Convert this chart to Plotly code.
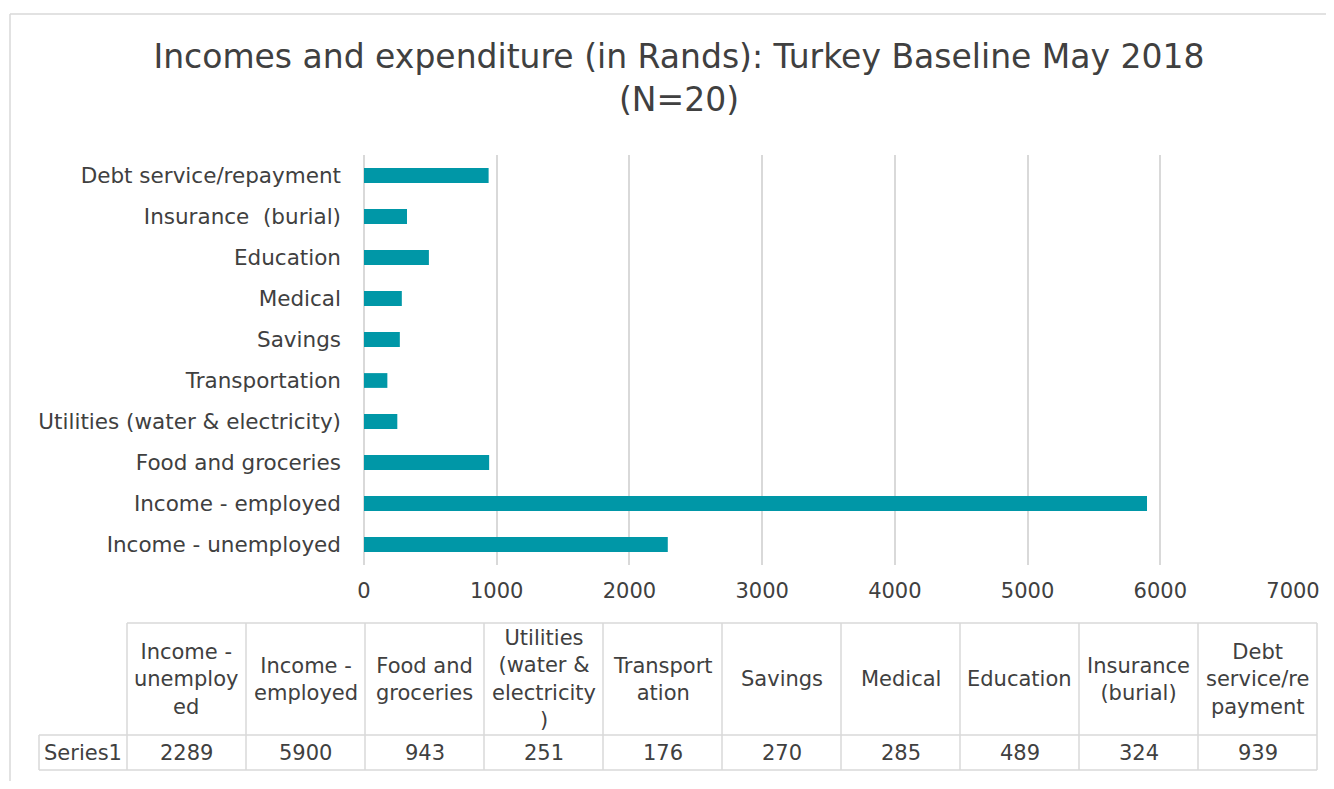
import plotly.graph_objects as go

# ---- data ----
categories = [
    "Income - unemployed", "Income - employed", "Food and groceries",
    "Utilities (water & electricity)", "Transportation", "Savings",
    "Medical", "Education", "Insurance  (burial)", "Debt service/repayment",
]
values = [2289, 5900, 943, 251, 176, 270, 285, 489, 324, 939]
table_headers = [
    "Income -<br>unemploy<br>ed", "Income -<br>employed", "Food and<br>groceries",
    "Utilities<br>(water &<br>electricity<br>)", "Transport<br>ation", "Savings",
    "Medical", "Education", "Insurance<br>(burial)", "Debt<br>service/re<br>payment",
]
series_name = "Series1"
x_ticks = [0, 1000, 2000, 3000, 4000, 5000, 6000, 7000]
title_text = "Incomes and expenditure (in Rands): Turkey Baseline May 2018<br>(N=20)"

# ---- layout constants ----
# figure sized to fit inside the page body (8px default margin) without scrollbars
OFF = 8
FW, FH = 1334 - 2 * OFF, 789 - 2 * OFF
FONT = "DejaVu Sans"
TXT = "#404040"
GRID = "#d9d9d9"
BAR = "#0097a7"


def X(px):
    return (px - OFF) / FW


def Y(py):
    return 1 - (py - OFF) / FH


fig = go.Figure()
fig.add_trace(go.Bar(
    y=categories, x=values, orientation="h",
    marker=dict(color=BAR, line=dict(width=0)),
    width=0.36, name=series_name, showlegend=False,
))

fig.update_layout(
    template="none",
    width=FW, height=FH,
    margin=dict(l=0, r=0, t=0, b=0, pad=0),
    paper_bgcolor="white", plot_bgcolor="white",
    font=dict(family=FONT, color=TXT, size=22),
    title=dict(text=title_text, x=X(679), xanchor="center", y=Y(68), yanchor="middle",
               font=dict(size=33, color=TXT, family=FONT), automargin=False),
    xaxis=dict(domain=[X(364), X(1293)], range=[0, 7000], tickvals=x_ticks,
               showgrid=True, gridcolor=GRID, gridwidth=1.5,
               zeroline=True, zerolinecolor=GRID, zerolinewidth=1.5,
               showline=False, ticks="", tickfont=dict(size=21, color=TXT),
               ticklabelstandoff=11, anchor="y", fixedrange=True, automargin=False),
    yaxis=dict(domain=[Y(565), Y(155)], categoryorder="array", categoryarray=categories,
               showgrid=False, zeroline=False, showline=False, ticks="",
               ticklabelstandoff=22, tickfont=dict(size=21.5, color=TXT), fixedrange=True,
               automargin=False),
)

shapes = []


def hline(y, xa, xb):
    shapes.append(dict(type="line", xref="paper", yref="paper",
                       x0=X(xa), x1=X(xb), y0=Y(y), y1=Y(y),
                       line=dict(color=GRID, width=1.5)))


def vline(x, ya, yb):
    shapes.append(dict(type="line", xref="paper", yref="paper",
                       x0=X(x), x1=X(x), y0=Y(ya), y1=Y(yb),
                       line=dict(color=GRID, width=1.5)))


# outer chart frame (top and left edges visible in the crop)
hline(14, 10, 1345)
vline(10, 14, 800)

# ---- data table ----
lab_left, col0, colw = 39, 127, 119
top, mid, bot = 623, 735, 770
ncol = len(categories)
right = col0 + colw * ncol

hline(top, col0, right)
hline(mid, lab_left, right)
hline(bot, lab_left, right)
vline(lab_left, mid, bot)
for k in range(ncol + 1):
    vline(col0 + colw * k, top, bot)

annotations = []
TF = 21
for k, (hdr, val) in enumerate(zip(table_headers, values)):
    cx = col0 + colw * (k + 0.5)
    annotations.append(dict(text=hdr, xref="paper", yref="paper", x=X(cx), y=Y((top + mid) / 2),
                            xanchor="center", yanchor="middle", showarrow=False, align="center",
                            font=dict(size=TF, color=TXT, family=FONT)))
    annotations.append(dict(text=str(val), xref="paper", yref="paper", x=X(cx), y=Y((mid + bot) / 2),
                            xanchor="center", yanchor="middle", showarrow=False,
                            font=dict(size=TF, color=TXT, family=FONT)))
annotations.append(dict(text=series_name, xref="paper", yref="paper", x=X((lab_left + col0) / 2),
                        y=Y((mid + bot) / 2), xanchor="center", yanchor="middle", showarrow=False,
                        font=dict(size=TF, color=TXT, family=FONT)))

fig.update_layout(shapes=shapes, annotations=annotations)
fig.write_html("out.html")
